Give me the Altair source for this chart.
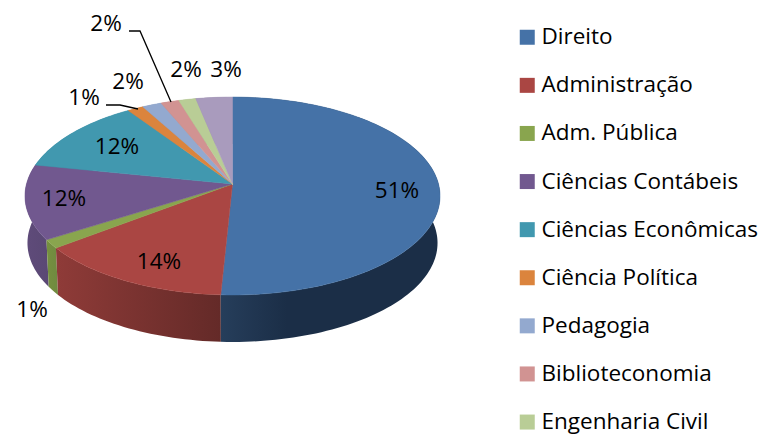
import math
import altair as alt
import pandas as pd

# Data
categories = ["Direito", "Administração", "Adm. Pública", "Ciências Contábeis",
              "Ciências Econômicas", "Ciência Política", "Pedagogia",
              "Biblioteconomia", "Engenharia Civil", "(fora do quadro)"]
shares = [50.8, 13.8, 1.4, 12.2, 12.4, 1.4, 1.7, 1.6, 1.5, 3.2]
colors = ["#4572A7", "#AA4643", "#89A54E", "#71588F", "#4198AF",
          "#DB843D", "#93A9CF", "#D19392", "#B9CD96", "#A99BBD"]
wall_left = ["#263E5B", "#8F3B38", "#76903F", "#5F4B7A", "#37819A",
             "#B9702F", "#7D90B0", "#B27D7C", "#9DAE7F", "#8F83A0"]
wall_right = ["#1B2E47", "#642A28", "#6F8A40", "#5A4874", "#37819A",
              "#B9702F", "#7D90B0", "#B27D7C", "#9DAE7F", "#8F83A0"]
wall_mid_offset = [0.3, 1.0, 1.0, 1.0, 1.0, 1.0, 1.0, 1.0, 1.0, 1.0]

label_texts = ["51%", "14%", "1%", "12%", "12%", "1%", "2%", "2%", "2%", "3%"]
label_x = [397, 159, 32, 64, 117, 84, 128, 106, 186, 226]
label_y = [191, 262, 310, 199, 147, 98, 82, 24, 70, 70]

leaders = {"a": [(129, 31), (140, 31), (171, 102)],
           "b": [(106, 105), (120, 105), (138, 109)]}

# Projection of the disc on the page
CX, CY, A, B, K = 232.5, 184.0, 206.0, 97.5, 0.1212
DEPTH = 47.0
LOWER_W = 0.988
FONT = "Open Sans"
FONT_SIZE = 22.5


def project(t_deg, lower=False):
    t = math.radians(t_deg)
    u, v = math.sin(t), math.cos(t)
    w = 1 + K * v
    if lower:
        return CX + LOWER_W * A * u / w, CY + DEPTH - B * v / w
    return CX + A * u / w, CY - B * v / w


starts = []
acc = 0.0
for s in shares:
    starts.append(acc)
    acc += s

x_scale = alt.Scale(domain=[8, 761], nice=False, zero=False)
y_scale = alt.Scale(domain=[434, 8], nice=False, zero=False)
X = alt.X("x:Q", scale=x_scale, axis=None)
Y = alt.Y("y:Q", scale=y_scale, axis=None)

walls, tops = [], []
for i, (st, s) in enumerate(zip(starts, shares)):
    t1, t2 = st * 3.6, (st + s) * 3.6
    n = max(3, int((t2 - t1) / 1.5))
    angs = [t1 + (t2 - t1) * j / n for j in range(n + 1)]
    pts_top = [project(a) for a in angs]
    pts_low = [project(a, True) for a in angs]
    ring = pts_top + pts_low[::-1]
    ring.append(ring[0])
    wf = pd.DataFrame({"x": [p[0] for p in ring], "y": [p[1] for p in ring], "i": range(len(ring))})
    walls.append((i, wf))
    poly = [(CX, CY)] + pts_top + [(CX, CY)]
    tf = pd.DataFrame({"x": [p[0] for p in poly], "y": [p[1] for p in poly], "i": range(len(poly))})
    tops.append((i, tf))

layers = []
wall_order = [4, 5, 6, 7, 8, 9, 3, 2, 1, 0]
for i in wall_order:
    wf = walls[i][1]
    if i == 0:
        stops = [alt.GradientStop(color=wall_left[i], offset=0),
                 alt.GradientStop(color=wall_right[i], offset=wall_mid_offset[i]),
                 alt.GradientStop(color=wall_right[i], offset=1)]
    else:
        stops = [alt.GradientStop(color=wall_left[i], offset=0),
                 alt.GradientStop(color=wall_right[i], offset=1)]
    grad = alt.LinearGradient(gradient="linear", stops=stops, x1=0, x2=1, y1=0, y2=0)
    layers.append(alt.Chart(wf).mark_line(fill=grad, strokeWidth=0, interpolate="linear")
                  .encode(x=X, y=Y, order="i:Q"))
for i, tf in tops:
    layers.append(alt.Chart(tf).mark_line(fill=colors[i], stroke=colors[i], strokeWidth=0.5,
                                          interpolate="linear")
                  .encode(x=X, y=Y, order="i:Q"))

for key, pts in leaders.items():
    lf = pd.DataFrame({"x": [p[0] for p in pts], "y": [p[1] for p in pts], "i": range(len(pts))})
    layers.append(alt.Chart(lf).mark_line(color="#000000", strokeWidth=1.3)
                  .encode(x=X, y=Y, order="i:Q"))

lab = pd.DataFrame({"t": label_texts, "x": label_x, "y": label_y})
layers.append(alt.Chart(lab).mark_text(font=FONT, fontSize=FONT_SIZE, color="#000000",
                                       align="center", baseline="middle")
              .encode(x=X, y=Y, text="t:N"))

leg = pd.DataFrame({"name": categories[:9], "x": [CX] * 9, "y": [CY] * 9})
layers.append(alt.Chart(leg).mark_square(size=1, opacity=1)
              .encode(x=X, y=Y,
                      color=alt.Color("name:N",
                                      scale=alt.Scale(domain=categories[:9], range=colors[:9]),
                                      sort=categories[:9],
                                      legend=alt.Legend(title=None, orient="none",
                                                        legendX=508, legendY=18,
                                                        symbolType="square", symbolSize=225,
                                                        symbolStrokeWidth=0,
                                                        labelFont=FONT, labelFontSize=FONT_SIZE,
                                                        labelColor="#000000", labelLimit=260,
                                                        labelOffset=3, rowPadding=25.1,
                                                        values=categories[:9]))))

chart = alt.layer(*layers).properties(
    width=753, height=426, padding=0, autosize=alt.AutoSizeParams(type="none")
).configure_view(stroke=None)

chart.save("out.html", embed_options={"renderer": "svg", "actions": False})
